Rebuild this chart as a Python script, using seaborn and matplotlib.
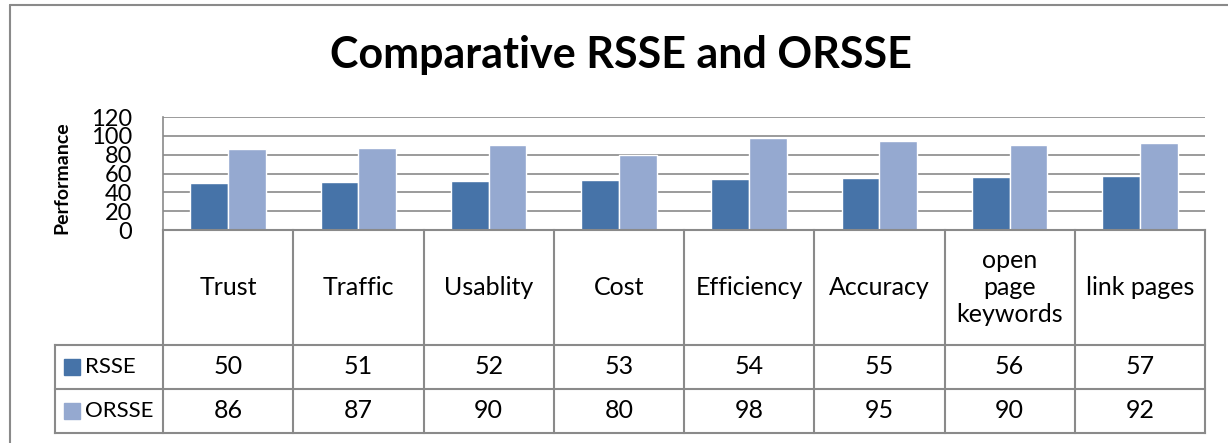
import matplotlib
matplotlib.use("Agg")
import matplotlib.pyplot as plt
from matplotlib.lines import Line2D
import pandas as pd
import seaborn as sns

# data
categories = ["Trust", "Traffic", "Usablity", "Cost", "Efficiency",
              "Accuracy", "open\npage\nkeywords", "link pages"]
rsse = [50, 51, 52, 53, 54, 55, 56, 57]
orsse = [86, 87, 90, 80, 98, 95, 90, 92]
series_names = ["RSSE", "ORSSE"]
series_colors = ["#4673A8", "#95A9D0"]
y_ticks = [0, 20, 40, 60, 80, 100, 120]

sns.set_style("white")
plt.rcParams["font.family"] = ["Lato", "DejaVu Sans"]
plt.rcParams["text.color"] = "black"

W, H = 1228, 443
LINE = "#8a8a8a"
fig = plt.figure(figsize=(W / 100, H / 100), dpi=100)


def px_box(x0, y0, x1, y1):
    """Figure-fraction rect from pixel corners (top-left origin)."""
    return [x0 / W, 1 - y1 / H, (x1 - x0) / W, (y1 - y0) / H]


df = pd.DataFrame({
    "category": categories * 2,
    "series": [s for s in series_names for _ in categories],
    "value": rsse + orsse,
})

# bar area
ax = fig.add_axes(px_box(163, 117, 1205, 230))
ax.set_axisbelow(True)
sns.barplot(data=df, x="category", y="value", hue="series", order=categories,
            hue_order=series_names, palette=series_colors, width=0.58,
            saturation=1, errorbar=None, legend=False, ax=ax)
ax.set_xlim(-0.5, len(categories) - 0.5)
ax.set_ylim(0, 120)
ax.set_yticks(y_ticks)
ax.set_xticks([])
ax.set_xlabel("")
ax.set_ylabel("")
ax.yaxis.grid(True, color=LINE, linewidth=1.2)
for side in ["top", "right", "bottom"]:
    ax.spines[side].set_visible(False)
ax.spines["left"].set_color(LINE)
ax.spines["left"].set_linewidth(1.2)
ax.tick_params(axis="y", length=0, pad=22, labelsize=17, labelcolor="black")

fig.text(62 / W, 1 - 178 / H, "Performance", rotation=90, fontsize=14,
         fontweight="bold", ha="center", va="center")
fig.text(621 / W, 1 - 55 / H, "Comparative RSSE and ORSSE", fontsize=31,
         fontweight="bold", ha="center", va="center")

# data table under the bars
unit = (1205 - 163) / len(categories)
legw = (163 - 55) / unit
rows = [0, 115, 159, 203]
n = len(categories)
tax = fig.add_axes(px_box(55, 230, 1205, 433))
tax.set_xlim(-0.5 - legw, n - 0.5)
tax.set_ylim(rows[-1], 0)
tax.axis("off")

kw = dict(color=LINE, linewidth=1.5, clip_on=False, solid_capstyle="projecting")
for i in range(n + 1):
    tax.plot([i - 0.5, i - 0.5], [rows[0], rows[-1]], **kw)
tax.plot([-0.5 - legw, -0.5 - legw], [rows[1], rows[-1]], **kw)
tax.plot([-0.5, n - 0.5], [rows[0], rows[0]], **kw)
for r in rows[1:]:
    tax.plot([-0.5 - legw, n - 0.5], [r, r], **kw)

for i, cat in enumerate(categories):
    tax.text(i, (rows[0] + rows[1]) / 2, cat, ha="center", va="center",
             fontsize=18, linespacing=1.2)
for vals, name, color, (top, bot) in zip([rsse, orsse], series_names, series_colors,
                                         [(rows[1], rows[2]), (rows[2], rows[3])]):
    mid = (top + bot) / 2
    for i, v in enumerate(vals):
        tax.text(i, mid, str(v), ha="center", va="center", fontsize=18)
    tax.plot([-0.5 - legw + 17 / unit], [mid], marker="s", markersize=11,
             color=color, linestyle="none", clip_on=False)
    tax.text(-0.5 - legw + 30 / unit, mid, name, ha="left", va="center", fontsize=16)

# outer chart border (top and left visible)
fig.add_artist(Line2D([10 / W, 1], [1 - 5 / H, 1 - 5 / H], color=LINE, linewidth=1.5))
fig.add_artist(Line2D([10 / W, 10 / W], [0, 1 - 5 / H], color=LINE, linewidth=1.5))

fig.savefig("out.png", dpi=100)
